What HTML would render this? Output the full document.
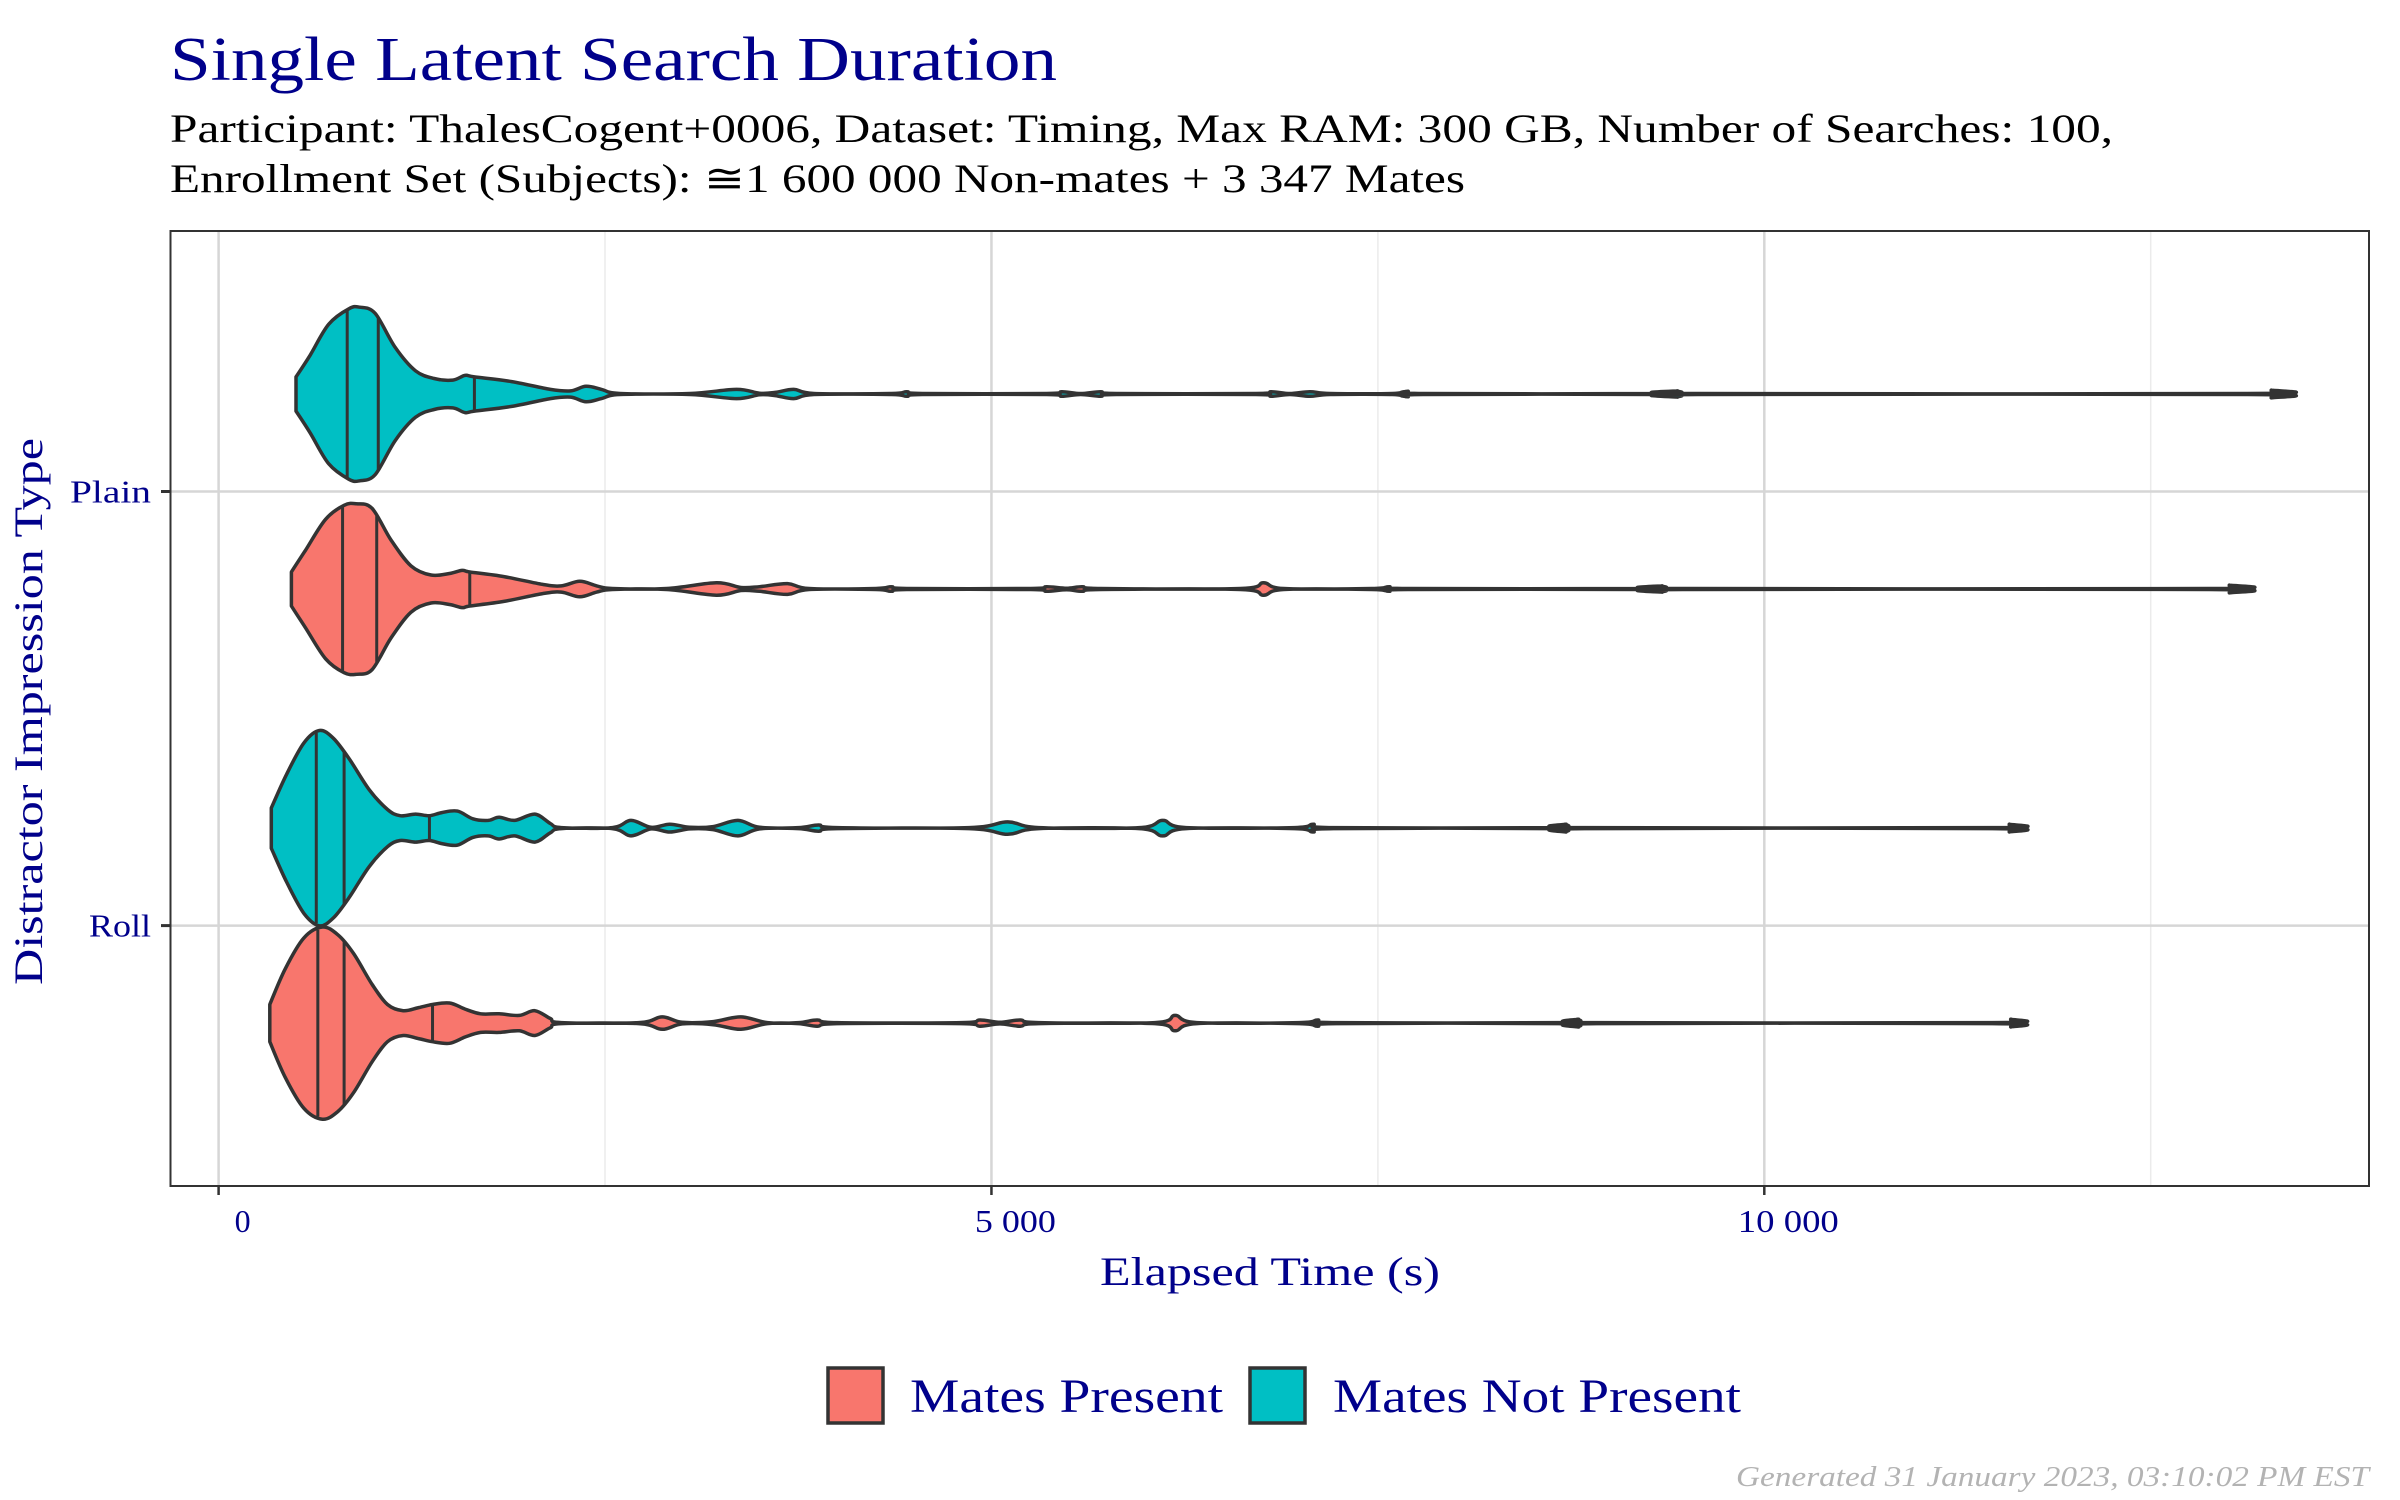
<!DOCTYPE html>
<html><head><meta charset="utf-8"><style>
html,body{margin:0;padding:0;background:#fff;}
svg{display:block;}
text{font-family:"Liberation Serif",serif;}
</style></head><body>
<svg id="chart" width="2400" height="1500" viewBox="0 0 2400 1500" xmlns="http://www.w3.org/2000/svg">
<rect x="0" y="0" width="2400" height="1500" fill="#fff"/>
<text x="170" y="80" font-size="62" fill="#00008B" textLength="887" lengthAdjust="spacingAndGlyphs">Single Latent Search Duration</text>
<text x="170" y="142" font-size="40" fill="#000" textLength="1943" lengthAdjust="spacingAndGlyphs">Participant: ThalesCogent+0006, Dataset: Timing, Max RAM: 300 GB, Number of Searches: 100,</text>
<text x="170" y="192" font-size="40" fill="#000" textLength="1295" lengthAdjust="spacingAndGlyphs">Enrollment Set (Subjects): ≅1 600 000 Non-mates + 3 347 Mates</text>
<g id="grid"></g>
<g id="marks"></g>
<rect x="170.5" y="231" width="2198.5" height="955" fill="none" stroke="#333" stroke-width="2"/>
<g id="axes"></g>
<text x="1100" y="1285" font-size="40" fill="#00008B" textLength="340" lengthAdjust="spacingAndGlyphs">Elapsed Time (s)</text>
<text transform="translate(42,985) rotate(-90)" font-size="40" fill="#00008B" textLength="547" lengthAdjust="spacingAndGlyphs">Distractor Impression Type</text>
<g>
<rect x="828" y="1368" width="55" height="55" fill="#F8766D" stroke="#333" stroke-width="3.5"/>
<text x="910" y="1412" font-size="48" fill="#00008B" textLength="313" lengthAdjust="spacingAndGlyphs">Mates Present</text>
<rect x="1250" y="1368" width="55" height="55" fill="#00BFC4" stroke="#333" stroke-width="3.5"/>
<text x="1333" y="1412" font-size="48" fill="#00008B" textLength="408" lengthAdjust="spacingAndGlyphs">Mates Not Present</text>
</g>
<text x="1736" y="1486" font-size="29" fill="#b3b3b3" font-style="italic" textLength="633" lengthAdjust="spacingAndGlyphs">Generated 31 January 2023, 03:10:02 PM EST</text>
</svg>
<script>
const categories = ["Plain", "Roll"];
const groups = ["Mates Present", "Mates Not Present"];
const xTicks = [0, 5000, 10000];
const xTickLabels = ["0", "5 000", "10 000"];
const xMinorTicks = [2500, 7500, 12500];

const plainNotX = [501,592,712,843,913,1013,1143,1274,1394,1515,1595,1655,1896,2146,2277,2377,2477,2597,3049,3350,3500,3601,3721,3852,4353,4453,4554,5356,5456,5577,5707,5807,6710,6810,6931,7061,7192,7593,7693,7793,9318,9438,9569,13129,13280];
const plainNotD = [11,25,45,55,56,52,30,15,10,9,12,11,8,3,2,5,3,0.3,0.3,3,0.5,1,3,0.3,0.3,1.5,0.3,0.3,1.5,0.3,1.5,0.3,0.3,1.5,0.3,1.5,0.3,0.3,1.8,0.3,0.3,2,0.3,0.3,2.5];
const plainNotQ = [832,1033,1655];

const plainMatesX = [471,562,692,812,893,993,1113,1244,1374,1494,1575,1625,1846,2096,2217,2337,2447,2548,2899,3220,3380,3500,3681,3821,4253,4353,4453,5256,5356,5486,5587,5707,6610,6760,6891,7462,7573,7693,9218,9338,9468,12879,13009];
const plainMatesD = [11,25,45,54,55,52,32,15,9,10,12,11,8,3,2,5,2,0.3,0.3,4,1,1.5,3.5,0.3,0.3,1.5,0.3,0.3,1.5,0.5,1.5,0.3,0.3,4,0.3,0.3,1.5,0.3,0.3,2,0.3,0.3,2.5];
const plainMatesQ = [802,1023,1625];

const rollNotX = [341,441,552,652,742,843,973,1093,1174,1274,1364,1444,1545,1645,1745,1815,1916,2046,2146,2217,2548,2668,2798,2919,3049,3200,3360,3500,3751,3882,4002,4855,5105,5306,5958,6108,6259,6961,7081,7212,8596,8716,8836,11474,11585];
const rollNotD = [13,35,55,63,58,45,25,12,8,9,8,10,11,6,5,7,5,9,3,0.3,0.3,5,0.5,2.5,0.5,1,5,0.5,0.3,2,0.3,0.3,4,0.3,0.3,5,0.3,0.3,2.5,0.3,0.3,2.5,0.3,0.3,2.5];
const rollNotQ = [632,812,1364];

const rollMatesX = [331,431,552,672,772,873,993,1093,1194,1294,1384,1494,1595,1695,1815,1946,2046,2146,2217,2718,2869,2999,3200,3380,3551,3751,3872,4002,4804,4925,5055,5186,5306,6058,6188,6329,6991,7111,7232,8666,8796,8917,11474,11595];
const rollMatesD = [12,35,55,62,57,45,25,12,8,10,12,13,9,6,6,5,8,3,0.3,0.3,4,0.5,1,4,0.3,0.3,2,0.3,0.3,2,0.5,2,0.3,0.3,5,0.3,0.3,2,0.3,0.3,2.5,0.3,0.3,2.5];
const rollMatesQ = [642,812,1384];

const NS = "http://www.w3.org/2000/svg";
const X0 = 218.6, XS = 0.15457;
function xScale(v){ return X0 + v * XS; }
const catY = {"Plain": 491.5, "Roll": 925.6};
const dodge = {"Mates Present": 97.5, "Mates Not Present": -97.5};
function yScale(cat, grp){ return catY[cat] + dodge[grp]; }
const WS = 1.55;
const colors = {"Mates Present": "#F8766D", "Mates Not Present": "#00BFC4"};
const tickLabelW = {"0": 16, "5 000": 81, "10 000": 101, "Plain": 81, "Roll": 62};

function mk(tag, attrs, parent){
  const e = document.createElementNS(NS, tag);
  for (const k in attrs) e.setAttribute(k, attrs[k]);
  parent.appendChild(e);
  return e;
}
const grid = document.getElementById('grid');
const marks = document.getElementById('marks');
const axes = document.getElementById('axes');

xMinorTicks.forEach(v => {
  const l = mk('line', {x1: xScale(v), x2: xScale(v), y1: 231, y2: 1186, stroke: '#ebebeb', 'stroke-width': 1.5}, grid);
  
  
});
xTicks.forEach((v, i) => {
  const l = mk('line', {x1: xScale(v), x2: xScale(v), y1: 231, y2: 1186, stroke: '#d6d6d6', 'stroke-width': 2.5}, grid);
  
  
  const t = mk('line', {x1: xScale(v), x2: xScale(v), y1: 1186, y2: 1195, stroke: '#333', 'stroke-width': 2.5}, axes);
  
  
  const w = tickLabelW[xTickLabels[i]];
  const tx = mk('text', {x: xScale(v) + 24 - w / 2, y: 1232, 'font-size': 32, fill: '#00008B', textLength: w, lengthAdjust: 'spacingAndGlyphs'}, axes);
  tx.textContent = xTickLabels[i];
  
  
});
categories.forEach(c => {
  const y = catY[c];
  const l = mk('line', {x1: 170.5, x2: 2369, y1: y, y2: y, stroke: '#d6d6d6', 'stroke-width': 2.5}, grid);
  
  
  const t = mk('line', {x1: 161, x2: 170.5, y1: y, y2: y, stroke: '#333', 'stroke-width': 3}, axes);
  
  
  const w = tickLabelW[c];
  const tx = mk('text', {x: 151 - w, y: y + 11, 'font-size': 32, fill: '#00008B', textLength: w, lengthAdjust: 'spacingAndGlyphs'}, axes);
  tx.textContent = c;
  
  
});

function widthAt(xs, ds, q){
  for (let i = 0; i < xs.length - 1; i++){
    if (q >= xs[i] && q <= xs[i+1]){
      const t = (q - xs[i]) / (xs[i+1] - xs[i]);
      return ds[i] + t * (ds[i+1] - ds[i]);
    }
  }
  return ds[0];
}
function spline(pts){
  let d = '';
  for (let i = 0; i < pts.length - 1; i++){
    const p0 = pts[Math.max(i-1,0)], p1 = pts[i], p2 = pts[i+1], p3 = pts[Math.min(i+2, pts.length-1)];
    const c1x = p1[0] + (p2[0]-p0[0])/6, c1y = p1[1] + (p2[1]-p0[1])/6;
    const c2x = p2[0] - (p3[0]-p1[0])/6, c2y = p2[1] - (p3[1]-p1[1])/6;
    d += ' C' + c1x.toFixed(1) + ',' + c1y.toFixed(1) + ' ' + c2x.toFixed(1) + ',' + c2y.toFixed(1) + ' ' + p2[0].toFixed(1) + ',' + p2[1].toFixed(1);
  }
  return d;
}
function drawViolin(cat, grp, xs, ds, qs, name){
  const cy = yScale(cat, grp);
  const top = xs.map((x, i) => [xScale(x), cy - ds[i] * WS]);
  const bot = xs.map((x, i) => [xScale(x), cy + ds[i] * WS]).reverse();
  const d = 'M' + top[0][0].toFixed(1) + ',' + top[0][1].toFixed(1) + spline(top) +
            ' L' + bot[0][0].toFixed(1) + ',' + bot[0][1].toFixed(1) + spline(bot) + ' Z';
  const p = mk('path', {d: d, fill: colors[grp], stroke: '#333', 'stroke-width': 3.5, 'stroke-linejoin': 'round'}, marks);
  
  
  qs.forEach(q => {
    const w = widthAt(xs, ds, q) * WS;
    const l = mk('line', {x1: xScale(q), x2: xScale(q), y1: cy - w, y2: cy + w, stroke: '#333', 'stroke-width': 3}, marks);
    
    
  });
}
drawViolin("Plain", "Mates Not Present", plainNotX, plainNotD, plainNotQ, 'violin-plain-mates-not-present');
drawViolin("Plain", "Mates Present", plainMatesX, plainMatesD, plainMatesQ, 'violin-plain-mates-present');
drawViolin("Roll", "Mates Not Present", rollNotX, rollNotD, rollNotQ, 'violin-roll-mates-not-present');
drawViolin("Roll", "Mates Present", rollMatesX, rollMatesD, rollMatesQ, 'violin-roll-mates-present');
</script>
</body></html>
